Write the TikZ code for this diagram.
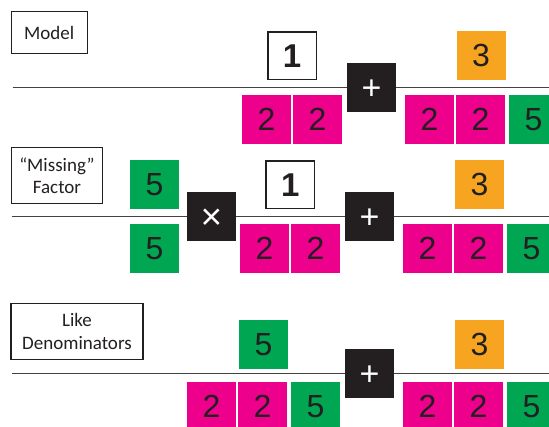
\documentclass[tikz,border=0pt]{standalone}
\usepackage{fontspec}
\setmainfont{Liberation Sans}
\newfontfamily\lblfont{Carlito}
\definecolor{pinkc}{HTML}{EC008C}
\definecolor{greenc}{HTML}{00A651}
\definecolor{orangec}{HTML}{F7A520}
\definecolor{darkc}{HTML}{231F20}
\begin{document}
\begin{tikzpicture}[x=1pt,y=-1pt,
  sq/.style={minimum width=49pt,minimum height=49pt,inner sep=0pt,outer sep=0pt,
    font=\fontsize{32}{32}\selectfont,text=darkc,text height=22.9pt,text depth=0pt},
  pk/.style={sq,fill=pinkc},
  gn/.style={sq,fill=greenc},
  og/.style={sq,fill=orangec},
  opbox/.style={sq,fill=darkc,text=white,font=\fontsize{34}{34}\selectfont,text height=24pt},
  onebox/.style={sq,minimum width=48.5pt,minimum height=47.5pt,draw=darkc,line width=1.5pt,fill=white,
    font=\bfseries\fontsize{33}{33}\selectfont,text height=23.6pt},
  lbl/.style={draw=darkc,line width=1.3pt,font=\lblfont\fontsize{19}{22.7}\selectfont,
    text=darkc,align=center,inner sep=0pt},
  bar/.style={draw=darkc!85,line width=1.5pt}]
\useasboundingbox (0,0) rectangle (549,427);
\clip (0,0) rectangle (549,427);

% ---------- Row 1 ----------
\coordinate (aL) at (12.7,87.7);
\coordinate (aR) at (549,87.7);
\draw[bar] (aL) -- (aR);
\node[lbl,minimum width=76pt,minimum height=42pt] (lblA) at (49.2,32.5) {Model};
\node[onebox] (a1) at (292,55.8) {1};
\node[pk] (ap1) at (266.5,119.5) {2};
\node[pk] (ap2) at (317.5,119.5) {2};
\node[opbox] (aplus) at (371.5,87.5) {+};
\node[og] (a3) at (481,55.5) {3};
\node[pk] (ap3) at (429.5,119.5) {2};
\node[pk] (ap4) at (480.5,119.5) {2};
\node[gn] (ag1) at (533.5,119.5) {5};

% ---------- Row 2 ----------
\coordinate (bL) at (11.7,216.3);
\coordinate (bR) at (549,216.3);
\draw[bar] (bL) -- (bR);
\node[lbl,minimum width=91pt,minimum height=56pt] (lblB) at (57,175.7) {“Missing”\\Factor};
\node[gn] (bg1) at (154.5,184.3) {5};
\node[gn] (bg2) at (154.5,248.3) {5};
\node[opbox,font=\fontsize{37}{37}\selectfont,text height=26pt] (btimes) at (211.5,216.3) {×};
\node[onebox] (b1) at (290.2,184.7) {1};
\node[pk] (bp1) at (264.5,248.3) {2};
\node[pk] (bp2) at (315.5,248.3) {2};
\node[opbox] (bplus) at (369.5,216.3) {+};
\node[og] (b3) at (479.5,184.3) {3};
\node[pk] (bp3) at (427.5,248.3) {2};
\node[pk] (bp4) at (478.5,248.3) {2};
\node[gn] (bg3) at (531.5,248.3) {5};

% ---------- Row 3 ----------
\coordinate (cL) at (11.7,373.3);
\coordinate (cR) at (549,373.3);
\draw[bar] (cL) -- (cR);
\node[lbl,minimum width=132pt,minimum height=56pt] (lblC) at (77,331.2) {Like\\Denominators};
\node[gn] (cg1) at (263.5,344.5) {5};
\node[pk] (cp1) at (211.5,406.5) {2};
\node[pk] (cp2) at (262.5,406.5) {2};
\node[gn] (cg2) at (315.5,406.5) {5};
\node[opbox] (cplus) at (369.5,373.5) {+};
\node[og] (c3) at (479.5,344.5) {3};
\node[pk] (cp3) at (427.5,406.5) {2};
\node[pk] (cp4) at (478.5,406.5) {2};
\node[gn] (cg3) at (531.5,406.5) {5};
\end{tikzpicture}
\end{document}
